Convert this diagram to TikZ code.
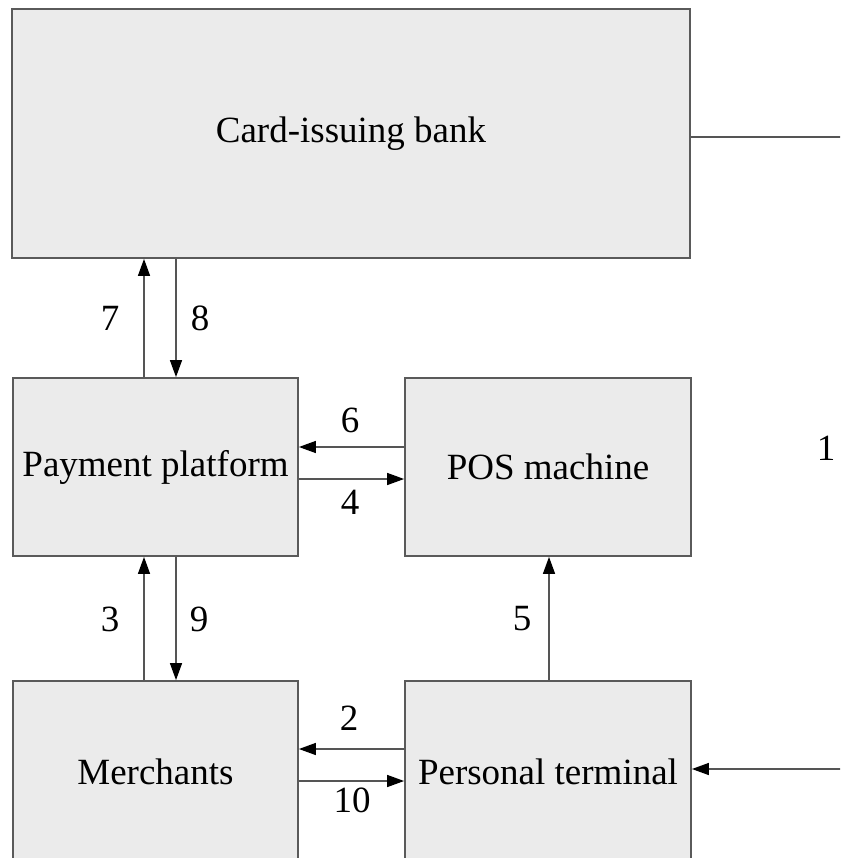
\documentclass[tikz,border=0pt]{standalone}
\usepackage{fontspec}
\setmainfont{Liberation Serif}
\usetikzlibrary{arrows.meta}
\definecolor{boxfill}{HTML}{EBEBEB}
\definecolor{boxline}{HTML}{5A5A5A}
\definecolor{arrline}{HTML}{555555}
\tikzset{
  blk/.style={draw=boxline, line width=1.8pt, fill=boxfill, inner sep=0pt, align=center,
    font=\fontsize{37}{44}\selectfont},
  arr/.style={draw=arrline, line width=1.4pt, -{Triangle[length=17pt,width=12pt,color=black]}},
  lab/.style={inner sep=0pt, font=\fontsize{37}{44}\selectfont}
}
\begin{document}
\begin{tikzpicture}[x=1pt,y=-1pt]
\useasboundingbox (0,0) rectangle (840,858);
\clip (0,0) rectangle (840,858);
\fill[white] (0,0) rectangle (840,858);
% boxes
\node[blk, minimum width=678pt, minimum height=249pt] (bank) at (351,133.5) {Card-issuing bank};
\node[blk, minimum width=285pt, minimum height=178pt] (pay) at (155.5,467) {Payment platform};
\node[blk, minimum width=286pt, minimum height=178pt] (pos) at (548,467) {POS machine};
\node[blk, minimum width=285pt, minimum height=182pt] (mer) at (155.5,772) {Merchants};
\node[blk, minimum width=286pt, minimum height=182pt] (per) at (548,772) {Personal terminal};
% helper coordinates
\coordinate (xa) at (144,0);
\coordinate (xb) at (176,0);
\coordinate (xc) at (549,0);
\coordinate (xr) at (860,0);
\coordinate (ya) at (0,447);
\coordinate (yb) at (0,479);
\coordinate (yc) at (0,749);
\coordinate (yd) at (0,781);
\coordinate (ye) at (0,137);
\coordinate (yf) at (0,769);
% connectors
\draw[arr] (pay.north -| xa) -- (bank.south -| xa);
\draw[arr] (bank.south -| xb) -- (pay.north -| xb);
\draw[arr] (pos.west |- ya) -- (pay.east |- ya);
\draw[arr] (pay.east |- yb) -- (pos.west |- yb);
\draw[arr] (mer.north -| xa) -- (pay.south -| xa);
\draw[arr] (pay.south -| xb) -- (mer.north -| xb);
\draw[arr] (per.north -| xc) -- (pos.south -| xc);
\draw[arr] (per.west |- yc) -- (mer.east |- yc);
\draw[arr] (mer.east |- yd) -- (per.west |- yd);
\draw[arr] (bank.east |- ye) -- (xr |- ye) -- (xr |- yf) -- (per.east |- yf);
% labels
\node[lab] (l7) at (110,318) {7};
\node[lab] (l8) at (200,318) {8};
\node[lab] (l6) at (350,420) {6};
\node[lab] (l4) at (350,502) {4};
\node[lab] (l3) at (110,619) {3};
\node[lab] (l9) at (199,619) {9};
\node[lab] (l5) at (522,619) {5};
\node[lab] (l2) at (349,718) {2};
\node[lab] (l10) at (352,800) {10};
\node[lab] (l1) at (826,448) {1};
\end{tikzpicture}
\end{document}
